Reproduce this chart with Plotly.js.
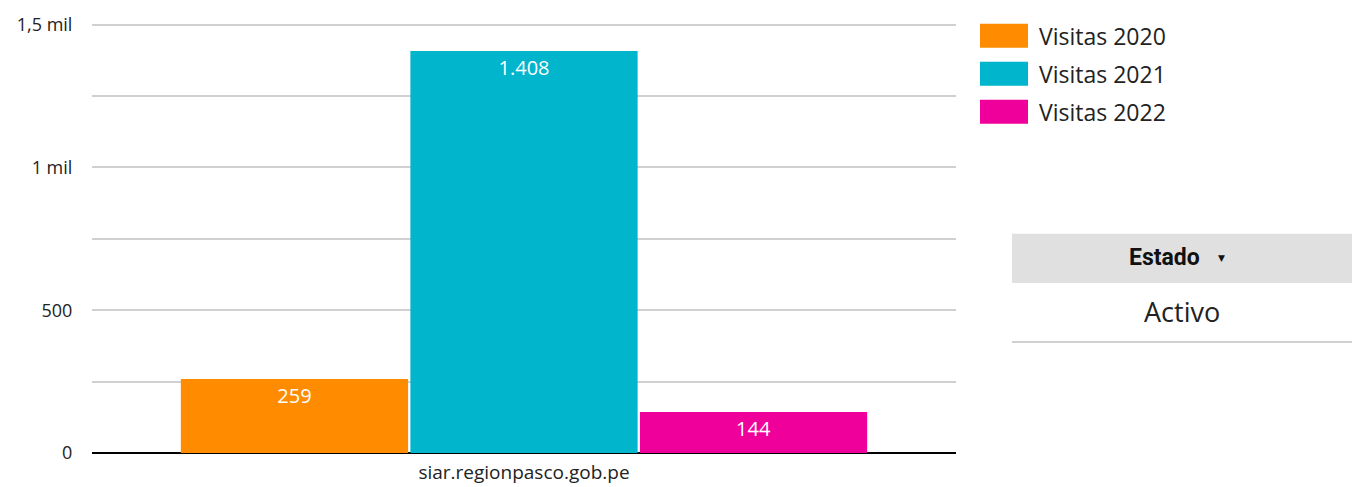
<!DOCTYPE html>
<html>
<head>
<meta charset="utf-8">
<script src="https://cdn.plot.ly/plotly-3.0.1.min.js"></script>
<style>
html,body{margin:0;padding:0;background:#fff;}
#chart{width:1364px;height:487px;}
</style>
</head>
<body>
<div id="chart"></div>
<script>
const categories = ["siar.regionpasco.gob.pe"];
const seriesNames = ["Visitas 2020", "Visitas 2021", "Visitas 2022"];
const visitas2020 = [259];
const visitas2021 = [1408];
const visitas2022 = [144];
const valueLabels2020 = ["259"];
const valueLabels2021 = ["1.408"];
const valueLabels2022 = ["144"];
const yTickVals = [0, 500, 1000, 1500];
const yTickText = ["0", "500", "1 mil", "1,5 mil"];
const filterHeader = "Estado";
const filterValue = "Activo";

const colors = ["#ff8c00", "#00b5cc", "#f0009a"];
const seriesValues = [visitas2020, visitas2021, visitas2022];
const seriesLabels = [valueLabels2020, valueLabels2021, valueLabels2022];
const FONT = "'Open Sans', Lato, sans-serif";

const traces = seriesNames.map((name, i) => ({
  type: "bar",
  name: name,
  x: categories,
  y: seriesValues[i],
  text: seriesLabels[i],
  textposition: "inside",
  insidetextanchor: "end",
  textangle: 0,
  textfont: {color: "#ffffff", size: 20, family: FONT},
  marker: {color: colors[i], line: {width: 0}},
  hoverinfo: "none",
  showlegend: false
}));

const shapes = [];
const annotations = [];
const W = 1364, H = 487;
const yMax = 1520;
const ml = 92, mr = 408, mb = 34;
const zeroY = H - mb;
const ph = 428 * yMax / 1500;
const mt = zeroY - ph;
const pw = W - ml - mr;
function px(x){ return (x - ml) / pw; }
function py(y){ return (zeroY - y) / ph; }

seriesNames.forEach((name, i) => {
  const top = 24 + i * 38;
  shapes.push({type: "rect", xref: "paper", yref: "paper",
    x0: px(980), x1: px(1028), y0: py(top + 24), y1: py(top),
    fillcolor: colors[i], line: {width: 0}});
  annotations.push({xref: "paper", yref: "paper", x: px(1037), y: py(top + 12),
    xanchor: "left", yanchor: "middle", showarrow: false, text: name,
    font: {family: FONT, size: 23, color: "#222"}});
});

shapes.push({type: "rect", xref: "paper", yref: "paper",
  x0: px(1012), x1: px(1352), y0: py(283), y1: py(234),
  fillcolor: "#e0e0e0", line: {width: 0}});
shapes.push({type: "line", xref: "paper", yref: "paper",
  x0: px(1012), x1: px(1352), y0: py(342), y1: py(342),
  line: {color: "#d0d0d0", width: 2}});
annotations.push({xref: "paper", yref: "paper", x: px(1164), y: py(258),
  xanchor: "center", yanchor: "middle", showarrow: false,
  text: "<b>" + filterHeader + "</b>",
  font: {family: "Roboto, sans-serif", size: 23, color: "#111"}});
annotations.push({xref: "paper", yref: "paper", x: px(1221), y: py(258),
  xanchor: "center", yanchor: "middle", showarrow: false, text: "▼",
  font: {family: "DejaVu Sans, sans-serif", size: 9, color: "#111"}});
annotations.push({xref: "paper", yref: "paper", x: px(1182), y: py(312),
  xanchor: "center", yanchor: "middle", showarrow: false, text: filterValue,
  font: {family: FONT, size: 27, color: "#222"}});

const layout = {
  width: W, height: H,
  margin: {l: ml, r: mr, t: mt, b: mb, pad: 0},
  paper_bgcolor: "#ffffff", plot_bgcolor: "#ffffff",
  barmode: "group", bargap: 0.203, bargroupgap: 0.01,
  font: {family: FONT, size: 17, color: "#222"},
  xaxis: {
    type: "category", showgrid: false, zeroline: false, showline: false,
    ticks: "outside", ticklen: 2, tickcolor: "rgba(0,0,0,0)",
    tickfont: {family: FONT, size: 19, color: "#222"}, fixedrange: true
  },
  yaxis: {
    range: [0, yMax], tickmode: "array", tickvals: yTickVals, ticktext: yTickText,
    showgrid: true, gridcolor: "#d0d0d0", gridwidth: 2,
    minor: {dtick: 250, showgrid: true, gridcolor: "#d0d0d0", gridwidth: 2, ticks: ""},
    zeroline: true, zerolinecolor: "#000000", zerolinewidth: 2,
    showline: false, ticks: "outside", ticklen: 15, tickcolor: "rgba(0,0,0,0)",
    tickfont: {family: FONT, size: 18, color: "#222"}, fixedrange: true
  },
  shapes: shapes,
  annotations: annotations,
  showlegend: false
};

Plotly.newPlot("chart", traces, layout, {displayModeBar: false, staticPlot: true});
</script>
</body>
</html>
